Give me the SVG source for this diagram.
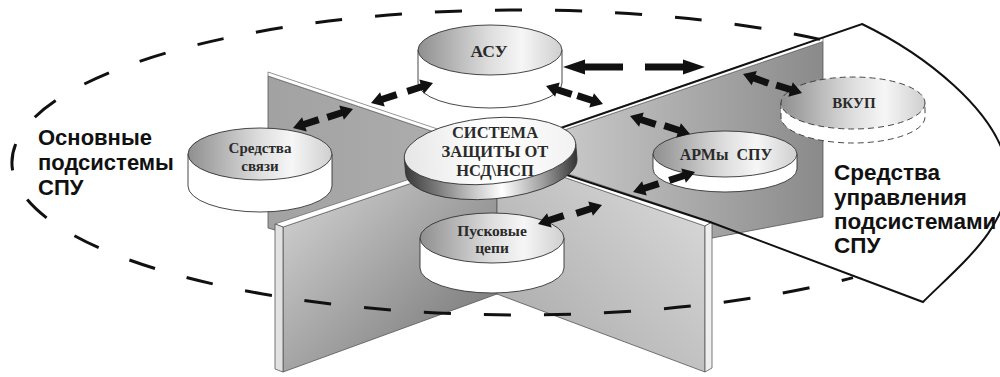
<svg xmlns="http://www.w3.org/2000/svg" width="1000" height="377" viewBox="0 0 1000 377">
<defs>
<linearGradient id="gTop" x1="0" y1="0" x2="1" y2="0">
<stop offset="0" stop-color="#8f8f8f"/><stop offset="0.5" stop-color="#dedede"/><stop offset="0.72" stop-color="#f6f6f6"/><stop offset="1" stop-color="#cfcfcf"/>
</linearGradient>
<linearGradient id="gCoreSide" x1="0" y1="0" x2="1" y2="0">
<stop offset="0" stop-color="#3a3a3a"/><stop offset="0.35" stop-color="#bbbbbb"/><stop offset="0.55" stop-color="#ffffff"/><stop offset="0.8" stop-color="#9a9a9a"/><stop offset="1" stop-color="#333333"/>
</linearGradient>
<linearGradient id="gCoreTop" x1="0" y1="0" x2="1" y2="0">
<stop offset="0" stop-color="#e6e6e6"/><stop offset="0.5" stop-color="#ffffff"/><stop offset="1" stop-color="#f2f2f2"/>
</linearGradient>
<linearGradient id="gBL" x1="0" y1="0" x2="1" y2="0">
<stop offset="0" stop-color="#a2a2a2"/><stop offset="1" stop-color="#b0b0b0"/>
</linearGradient>
<linearGradient id="gFL" x1="0" y1="0" x2="1" y2="1">
<stop offset="0" stop-color="#dcdcdc"/><stop offset="1" stop-color="#6e6e6e"/>
</linearGradient>
<linearGradient id="gBR" x1="0" y1="0" x2="1" y2="0">
<stop offset="0" stop-color="#d8d8d8"/><stop offset="1" stop-color="#8a8a8a"/>
</linearGradient>
<linearGradient id="gFR" x1="0" y1="1" x2="1" y2="0">
<stop offset="0" stop-color="#a6a6a6"/><stop offset="1" stop-color="#dedede"/>
</linearGradient>
<path id="arS" d="M0,0 L-12,-7.5 L-12,-3.5 L-27,-3.5 L-27,3.5 L-12,3.5 L-12,7.5 Z"/>
<path id="arB" d="M0,0 L-22,-7.5 L-22,-3.5 L-60,-3.5 L-60,3.5 L-22,3.5 L-22,7.5 Z"/>
</defs>
<style>
.pl{stroke:#555;stroke-width:0.8;stroke-linejoin:round}
.strip{fill:#fff;stroke:#666;stroke-width:0.7}
.body{fill:#fff;stroke:#333;stroke-width:0.9}
.top{fill:url(#gTop);stroke:#333;stroke-width:0.9}
.dsh{stroke-dasharray:6 4}
.lbl{font-family:"Liberation Serif","Times New Roman",serif;font-weight:bold;fill:#2a2a2a;text-anchor:middle}
.big{font-family:"Liberation Sans",Arial,sans-serif;font-weight:bold;fill:#111}
.arr{fill:#111}
</style>
<rect width="1000" height="377" fill="#fff"/>

<g id="panels">
<polygon class="pl" fill="url(#gBL)" points="268,76 497,153 497,294 268,228"/>
<polygon class="strip" points="268,72 497,149 497,153 268,76"/>
<polygon class="pl" fill="url(#gBR)" points="497,153 823,41.5 823,217 712,238 497,294"/>
<polygon class="strip" points="497,149 823,37.5 823,41.5 497,153"/>
<polygon class="pl" fill="url(#gFL)" points="283,227 497,154 497,294 283,372"/>
<polygon class="strip" points="275,224 497,150 497,154 283,227"/>
<polygon class="pl" fill="#e2e2e2" points="275,224 283,227 283,372 275,369"/>
<polygon class="pl" fill="url(#gFR)" points="497,154 705,226 705,372 497,294"/>
<polygon class="strip" points="497,150 712,222 705,226 497,154"/>
<polygon class="pl" fill="#eeeeee" points="705,226 712,222 712,368 705,372"/>
</g>

<g id="boundaries">
<path d="M820,39.4 A508,152.5 0 1 0 853,277.6" fill="none" stroke="#111" stroke-width="3" stroke-dasharray="27 33"/>
<path d="M497,150 L862,24 C920,52 1000,110 1008,172 C1012,225 960,265 923,302 L710,222 L497,152" fill="none" stroke="#111" stroke-width="2" stroke-linejoin="miter"/>
</g>

<g id="node-asu">
<path class="body" d="M418,50 L418,83 A72,25 0 0 0 562,83 L562,50 Z"/>
<ellipse class="top" cx="490" cy="50" rx="72" ry="25"/>
<text class="lbl" x="489" y="57" font-size="17.5">АСУ</text>
</g>

<g id="node-sredstva-svyazi">
<path class="body" d="M188,154 L188,186 A72,26 0 0 0 332,186 L332,154 Z"/>
<ellipse class="top" cx="260" cy="154" rx="72" ry="26"/>
<text class="lbl" x="260" y="153" font-size="15">Средства</text>
<text class="lbl" x="260" y="171" font-size="15">связи</text>
</g>

<g id="node-puskovye">
<path class="body" d="M420,238 L420,268 A72,25 0 0 0 564,268 L564,238 Z"/>
<ellipse class="top" cx="492" cy="238" rx="72" ry="25"/>
<text class="lbl" x="492" y="236" font-size="15.5">Пусковые</text>
<text class="lbl" x="492" y="253" font-size="15.5">цепи</text>
</g>

<g id="node-arm">
<path class="body" d="M653,154 L653,169 A72,23 0 0 0 797,169 L797,154 Z"/>
<ellipse class="top" cx="725" cy="154" rx="72" ry="23"/>
<text class="lbl" x="726" y="160" font-size="16" xml:space="preserve">АРМы  СПУ</text>
</g>

<g id="node-vkup">
<path class="body dsh" d="M781,103 L781,117 A72,26 0 0 0 925,117 L925,103 Z"/>
<ellipse class="top dsh" cx="853" cy="103" rx="72" ry="26"/>
<text class="lbl" x="854" y="108" font-size="15">ВКУП</text>
</g>

<g id="node-sistema">
<g transform="rotate(-5 490 151)">
<path d="M404,151 L404,166 A86,33 0 0 0 576,166 L576,151 Z" fill="url(#gCoreSide)" stroke="#333" stroke-width="0.9"/>
<ellipse cx="490" cy="151" rx="86" ry="33" fill="url(#gCoreTop)" stroke="#333" stroke-width="0.9"/>
</g>
<text class="lbl" x="495" y="138" font-size="16.5">СИСТЕМА</text>
<text class="lbl" x="495" y="157" font-size="16.5">ЗАЩИТЫ ОТ</text>
<text class="lbl" x="495" y="176" font-size="16.5">НСД\НСП</text>
</g>

<g id="connectors" class="arr">
<use href="#arS" transform="translate(293,128) rotate(162)"/>
<use href="#arS" transform="translate(353,109) rotate(-18)"/>
<use href="#arS" transform="translate(371,103) rotate(162)"/>
<use href="#arS" transform="translate(433,83) rotate(-18)"/>
<use href="#arS" transform="translate(546,86) rotate(198)"/>
<use href="#arS" transform="translate(603,104) rotate(18)"/>
<use href="#arS" transform="translate(630,116) rotate(198)"/>
<use href="#arS" transform="translate(690,134) rotate(18)"/>
<use href="#arS" transform="translate(538,224) rotate(162)"/>
<use href="#arS" transform="translate(602,205) rotate(-18)"/>
<use href="#arS" transform="translate(633,192) rotate(162)"/>
<use href="#arS" transform="translate(695,172) rotate(-18)"/>
<use href="#arB" transform="translate(563,67) rotate(180)"/>
<use href="#arB" transform="translate(705,67)"/>
<use href="#arS" transform="translate(743,74) rotate(200)"/>
<use href="#arS" transform="translate(802,93) rotate(17)"/>
</g>

<g id="label-osnovnye" class="big" font-size="22">
<text x="38" y="145">Основные</text>
<text x="38" y="170">подсистемы</text>
<text x="38" y="195">СПУ</text>
</g>
<g id="label-upravlenie" class="big" font-size="22.5">
<text x="834" y="180">Средства</text>
<text x="834" y="205">управления</text>
<text x="834" y="229">подсистемами</text>
<text x="834" y="253">СПУ</text>
</g>
</svg>
